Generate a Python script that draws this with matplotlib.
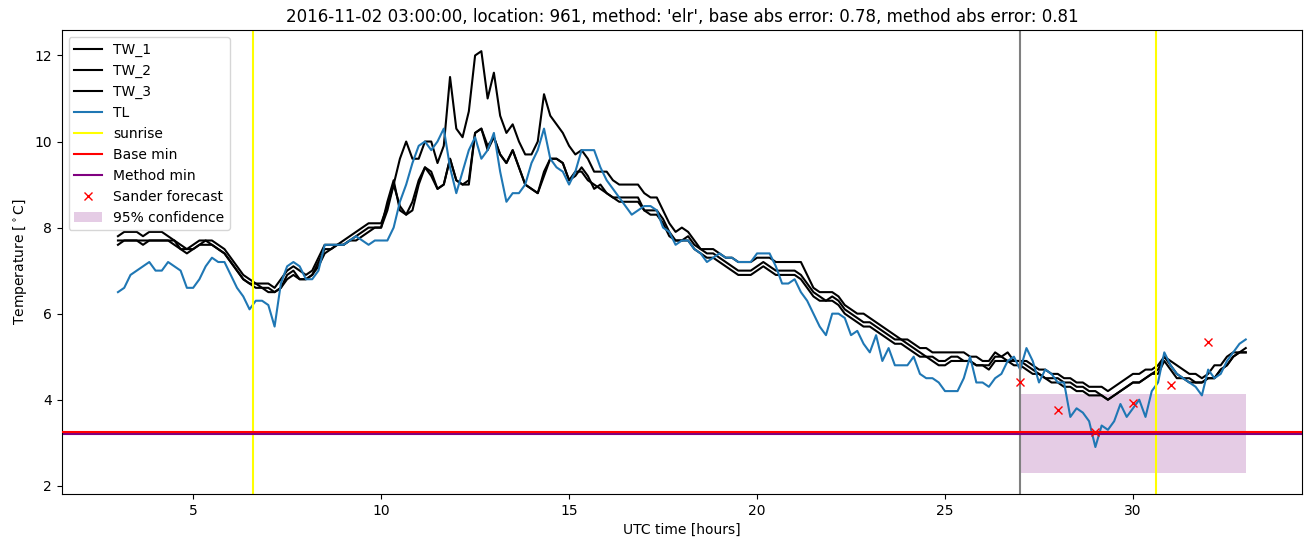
import numpy as np
from matplotlib import pyplot as plt

# 10-minute samples from 03:00 (hour 3) to hour 33
start_hour = 3
step_minutes = 10

tw_1 = [7.8, 7.9, 7.9, 7.9, 7.8, 7.9,
        7.9, 7.9, 7.8, 7.7, 7.6, 7.5,
        7.6, 7.7, 7.7, 7.7, 7.6, 7.5,
        7.3, 7.1, 6.9, 6.8, 6.7, 6.7,
        6.7, 6.6, 6.8, 7.0, 7.1, 7.0,
        6.9, 7.0, 7.3, 7.6, 7.6, 7.6,
        7.7, 7.8, 7.9, 8.0, 8.1, 8.1,
        8.1, 8.5, 9.0, 9.6, 10.0, 9.6,
        9.6, 10.0, 10.0, 9.5, 9.9, 11.5,
        10.3, 10.1, 10.7, 12.0, 12.1, 11.0,
        11.6, 10.6, 10.2, 10.4, 10.0, 9.7,
        9.7, 10.0, 11.1, 10.6, 10.4, 10.2,
        9.9, 9.7, 9.8, 9.6, 9.3, 9.3,
        9.3, 9.1, 9.0, 9.0, 9.0, 9.0,
        8.8, 8.7, 8.7, 8.4, 8.1, 7.9,
        8.0, 7.9, 7.7, 7.5, 7.5, 7.5,
        7.4, 7.3, 7.3, 7.2, 7.2, 7.2,
        7.3, 7.3, 7.3, 7.2, 7.2, 7.2,
        7.2, 7.2, 6.9, 6.6, 6.5, 6.5,
        6.5, 6.4, 6.2, 6.1, 6.0, 6.0,
        5.9, 5.8, 5.7, 5.6, 5.5, 5.4,
        5.4, 5.3, 5.2, 5.2, 5.1, 5.1,
        5.1, 5.1, 5.1, 5.1, 5.0, 5.0,
        4.9, 4.9, 5.1, 5.0, 5.1, 4.9,
        4.9, 4.9, 4.8, 4.7, 4.7, 4.6,
        4.6, 4.5, 4.5, 4.4, 4.4, 4.3,
        4.3, 4.3, 4.2, 4.3, 4.4, 4.5,
        4.6, 4.6, 4.7, 4.7, 4.8, 5.0,
        4.9, 4.8, 4.7, 4.6, 4.6, 4.5,
        4.6, 4.8, 4.8, 5.0, 5.1, 5.1,
        5.2]

tw_2 = [7.7, 7.7, 7.7, 7.7, 7.6, 7.7,
        7.7, 7.7, 7.7, 7.7, 7.5, 7.4,
        7.5, 7.6, 7.7, 7.6, 7.5, 7.4,
        7.2, 7.0, 6.8, 6.7, 6.6, 6.6,
        6.6, 6.5, 6.6, 6.9, 7.0, 6.8,
        6.8, 6.9, 7.2, 7.5, 7.5, 7.6,
        7.6, 7.7, 7.8, 7.9, 8.0, 8.0,
        8.0, 8.6, 9.1, 8.4, 8.3, 8.6,
        9.1, 9.4, 9.3, 8.9, 9.0, 9.6,
        9.1, 9.0, 9.0, 10.2, 10.3, 9.9,
        10.1, 9.7, 9.5, 9.8, 9.4, 9.0,
        8.9, 8.8, 9.3, 9.6, 9.6, 9.5,
        9.1, 9.2, 9.4, 9.2, 8.9, 9.0,
        8.8, 8.7, 8.7, 8.7, 8.7, 8.7,
        8.4, 8.4, 8.4, 8.2, 7.9, 7.7,
        7.7, 7.8, 7.6, 7.5, 7.4, 7.4,
        7.3, 7.2, 7.1, 7.0, 7.0, 7.0,
        7.1, 7.2, 7.1, 7.0, 7.0, 7.0,
        7.0, 6.9, 6.7, 6.5, 6.4, 6.3,
        6.4, 6.3, 6.1, 6.0, 5.9, 5.8,
        5.8, 5.7, 5.6, 5.5, 5.4, 5.4,
        5.3, 5.2, 5.1, 5.0, 5.0, 4.9,
        4.9, 5.0, 5.0, 4.9, 4.9, 4.8,
        4.8, 4.8, 5.0, 5.0, 4.9, 4.9,
        4.9, 4.8, 4.7, 4.6, 4.5, 4.5,
        4.5, 4.4, 4.4, 4.3, 4.3, 4.2,
        4.2, 4.1, 4.0, 4.1, 4.2, 4.3,
        4.4, 4.4, 4.5, 4.6, 4.7, 5.0,
        4.8, 4.6, 4.5, 4.5, 4.4, 4.4,
        4.5, 4.5, 4.7, 4.8, 5.0, 5.1,
        5.1]

tw_3 = [7.6, 7.7, 7.7, 7.7, 7.7, 7.7,
        7.7, 7.7, 7.7, 7.6, 7.5, 7.5,
        7.5, 7.6, 7.6, 7.6, 7.5, 7.4,
        7.2, 7.0, 6.8, 6.7, 6.7, 6.6,
        6.5, 6.5, 6.6, 6.8, 6.9, 6.8,
        6.8, 6.9, 7.1, 7.4, 7.5, 7.6,
        7.6, 7.7, 7.7, 7.8, 7.9, 8.0,
        8.0, 8.4, 9.0, 8.5, 8.3, 8.4,
        9.0, 9.4, 9.2, 8.9, 9.0, 9.6,
        9.1, 9.0, 9.1, 10.2, 10.3, 9.8,
        10.1, 9.7, 9.5, 9.8, 9.4, 9.0,
        8.9, 8.8, 9.2, 9.6, 9.6, 9.5,
        9.1, 9.3, 9.3, 9.1, 9.0, 8.9,
        8.8, 8.7, 8.6, 8.6, 8.6, 8.6,
        8.4, 8.3, 8.3, 8.1, 7.8, 7.7,
        7.7, 7.7, 7.5, 7.4, 7.3, 7.3,
        7.2, 7.1, 7.0, 6.9, 6.9, 6.9,
        7.0, 7.1, 7.0, 6.9, 6.9, 6.9,
        6.9, 6.8, 6.6, 6.4, 6.3, 6.3,
        6.3, 6.2, 6.0, 5.9, 5.8, 5.7,
        5.7, 5.6, 5.5, 5.4, 5.3, 5.3,
        5.2, 5.1, 5.0, 5.0, 4.9, 4.8,
        4.8, 4.9, 4.9, 4.9, 4.9, 4.8,
        4.8, 4.7, 4.9, 4.9, 4.9, 4.8,
        4.8, 4.7, 4.6, 4.6, 4.5, 4.4,
        4.4, 4.3, 4.3, 4.2, 4.2, 4.1,
        4.1, 4.1, 4.0, 4.1, 4.2, 4.3,
        4.4, 4.4, 4.5, 4.6, 4.6, 4.9,
        4.7, 4.5, 4.5, 4.4, 4.4, 4.4,
        4.5, 4.5, 4.7, 4.8, 5.0, 5.1,
        5.1]

tl = [6.5, 6.6, 6.9, 7.0, 7.1, 7.2,
      7.0, 7.0, 7.2, 7.1, 7.0, 6.6,
      6.6, 6.8, 7.1, 7.3, 7.2, 7.2,
      6.9, 6.6, 6.4, 6.1, 6.3, 6.3,
      6.2, 5.7, 6.7, 7.1, 7.2, 7.1,
      6.8, 6.8, 7.0, 7.6, 7.6, 7.6,
      7.6, 7.7, 7.8, 7.7, 7.6, 7.7,
      7.7, 7.7, 8.0, 8.6, 9.0, 9.5,
      9.9, 10.0, 9.8, 10.0, 10.3, 9.4,
      8.8, 9.3, 9.8, 10.1, 9.6, 9.8,
      10.2, 9.3, 8.6, 8.8, 8.8, 9.0,
      9.5, 9.8, 10.3, 9.6, 9.4, 9.3,
      9.0, 9.3, 9.8, 9.8, 9.8, 9.4,
      9.1, 8.9, 8.7, 8.5, 8.3, 8.4,
      8.5, 8.5, 8.4, 8.0, 7.9, 7.6,
      7.7, 7.7, 7.5, 7.4, 7.2, 7.3,
      7.4, 7.3, 7.3, 7.2, 7.2, 7.2,
      7.4, 7.4, 7.4, 7.1, 6.7, 6.7,
      6.8, 6.5, 6.3, 6.0, 5.7, 5.5,
      6.0, 6.0, 5.9, 5.5, 5.6, 5.3,
      5.1, 5.5, 4.9, 5.2, 4.8, 4.8,
      4.8, 5.0, 4.6, 4.5, 4.5, 4.4,
      4.2, 4.2, 4.2, 4.5, 5.0, 4.4,
      4.4, 4.3, 4.5, 4.6, 4.9, 5.0,
      4.7, 5.2, 4.9, 4.4, 4.7, 4.6,
      4.4, 4.4, 3.6, 3.8, 3.7, 3.5,
      2.9, 3.4, 3.3, 3.5, 3.9, 3.6,
      3.8, 4.0, 3.6, 4.2, 4.4, 5.1,
      4.8, 4.6, 4.5, 4.4, 4.3, 4.1,
      4.7, 4.5, 4.6, 4.9, 5.1, 5.3,
      5.4]

sunrise_hours = [6.6, 30.6]
forecast_start = 27
base_min = 3.255
method_min = 3.21

sander_hours = [27, 28, 29, 30, 31, 32]
sander_values = [4.42, 3.77, 3.26, 3.93, 4.35, 5.33]

conf_hours = [27, 33]
conf_low = 2.3
conf_high = 4.13

hours = start_hour + np.arange(len(tl)) * step_minutes / 60

fig = plt.figure(figsize=(13.1, 5.47), dpi=100)
ax = fig.add_axes([0.047, 0.097, 0.947, 0.848])

ax.plot(hours, tw_1, c='k', label='TW_1')
ax.plot(hours, tw_2, c='k', label='TW_2')
ax.plot(hours, tw_3, c='k', label='TW_3')
ax.plot(hours, tl, c='tab:blue', label='TL')
for i, h in enumerate(sunrise_hours):
    ax.axvline(h, c='yellow', label='sunrise' if i == 0 else None)
ax.axvline(forecast_start, c='grey')
# red sits on top of the purple one, which peeks out underneath
ax.axhline(base_min, c='red', label='Base min', zorder=3)
ax.axhline(method_min, c='purple', label='Method min', zorder=2.5)
ax.plot(sander_hours, sander_values, 'rx', label='Sander forecast', zorder=4)
ax.fill_between(conf_hours, conf_low, conf_high, color='purple', alpha=0.2,
                lw=0, label='95% confidence')

ax.set_title("2016-11-02 03:00:00, location: 961, method: 'elr', "
             "base abs error: 0.78, method abs error: 0.81")
ax.set_xlabel('UTC time [hours]')
ax.set_ylabel(r'Temperature [$^\circ$C]')
ax.legend(loc='upper left')

fig.savefig('out.png')
